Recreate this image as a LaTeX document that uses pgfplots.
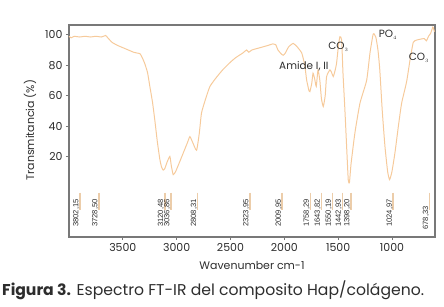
\documentclass[border=0pt]{standalone}
\usepackage{fontspec}
\setmainfont{Poppins}
\newfontfamily\lab{Liberation Sans}
\usepackage{pgfplots}
\pgfplotsset{compat=1.18}
\definecolor{spec}{RGB}{246,202,155}
\definecolor{marker}{RGB}{236,205,170}
\definecolor{frame}{RGB}{120,120,120}
\definecolor{txt}{RGB}{45,45,45}
\pgfplotstableread{
w T
4000 99
3980 98
3950 99
3900 98.5
3850 99
3800 98.5
3750 99
3700 98.5
3660 99.5
3640 98
3600 95
3550 93
3500 91.5
3450 90
3400 88.5
3370 88
3340 87.5
3320 85
3296 81
3270 75
3249 66
3225 56
3203 44
3180 30
3156 18
3140 13
3125 11
3110 12
3090 16
3063 20
3050 14
3032 8
3010 10
2980 15
2940 22
2900 29
2877 33
2850 29
2815 24
2790 35
2769 48.6
2730 58
2691 66
2630 72
2571 77
2500 82
2450 85
2385 88
2350 90
2330 88.5
2300 90
2250 91
2199 92
2150 93
2106 94
2080 93.5
2059 90
2030 87.5
2010 86.5
1990 88
1960 92
1917 94.3
1880 92
1838 88
1810 80
1792 70
1770 63
1762 62.6
1745 68
1733 74.7
1718 71
1703 66
1687 76.9
1670 70
1655 58
1638 52.8
1620 60
1607 72.5
1576 76.9
1560 75
1545 72.5
1530 76
1515 81
1495 94
1483 98.7
1467 96.5
1455 75
1437 50.6
1420 25
1406 4.7
1395 2.6
1380 15
1344 35.5
1297 55
1235 70
1204 88
1174 100.5
1150 98.5
1130 90
1113 77
1090 50
1065 26.6
1040 10
1022 4.7
1000 10
972 22.4
940 40
910 55
864 69
833 83
802 95
770 96.5
740 97
700 97.5
680 96
660 99
640 101
620 105
605 102
}\spectrum
\begin{document}
\begin{tikzpicture}[x=1bp,y=1bp]
\path[use as bounding box] (-69,-69) rectangle (375,237);
\begin{axis}[at={(0,0)}, anchor=south west, scale only axis,
  width=366bp, height=212bp,
  x dir=reverse, xmin=600, xmax=4000, ymin=-33, ymax=106.4,
  xtick={1000,1500,...,3500}, ytick={20,40,...,100},
  tick align=outside, xtick pos=bottom, ytick pos=left,
  major tick length=3bp,
  axis line style={frame, line width=1.3pt},
  tick style={frame, line width=0.8pt},
  ticklabel style={font=\fontsize{11}{11}\selectfont, text=txt},
  /pgf/number format/assume math mode=true,
  /pgf/number format/1000 sep={},
  clip=false]
\addplot[spec, line width=1pt, smooth, tension=0.3] table[x=w,y=T] {\spectrum};
% marker lines
\addplot[marker, line width=1.6pt] coordinates {(3900,-3.8) (3900,-15)};
\addplot[marker, line width=1.6pt] coordinates {(3723,-3.8) (3723,-15)};
\addplot[marker, line width=1.6pt] coordinates {(3110,-3.8) (3110,-15)};
\addplot[marker, line width=1.6pt] coordinates {(3054,-3.8) (3054,-15)};
\addplot[marker, line width=1.6pt] coordinates {(2806,-3.8) (2806,-15)};
\addplot[marker, line width=1.6pt] coordinates {(2320,-3.8) (2320,-15)};
\addplot[marker, line width=1.6pt] coordinates {(2019,-3.8) (2019,-15)};
\addplot[marker, line width=1.6pt] coordinates {(1757,-3.8) (1757,-15)};
\addplot[marker, line width=1.6pt] coordinates {(1655,-3.8) (1655,-15)};
\addplot[marker, line width=1.6pt] coordinates {(1553,-3.8) (1553,-15)};
\addplot[marker, line width=1.6pt] coordinates {(1460,-3.8) (1460,-15)};
\addplot[marker, line width=1.6pt] coordinates {(1381,-3.8) (1381,-15)};
\addplot[marker, line width=1.6pt] coordinates {(988,-3.8) (988,-15)};
\addplot[marker, line width=1.6pt] coordinates {(651,-3.8) (651,-15)};
% labels
\begin{scope}[every node/.style={rotate=90, anchor=south east, inner sep=0.3pt, xshift=-1.2bp, font=\lab\fontsize{7.6}{7.6}\selectfont, text=txt}]
\node at (axis cs:3900,-7.1) {3802,15};
\node at (axis cs:3723,-7.1) {3728,50};
\node at (axis cs:3112,-7.1) {3120,48};
\node at (axis cs:3054,-7.1) {3036,86};
\node at (axis cs:2806,-7.1) {2808,31};
\node at (axis cs:2320,-7.1) {2323,95};
\node at (axis cs:2019,-7.1) {2009,95};
\node at (axis cs:1757,-7.1) {1758,29};
\node at (axis cs:1655,-7.1) {1643,82};
\node at (axis cs:1553,-7.1) {1550,19};
\node at (axis cs:1460,-7.1) {1442,93};
\node at (axis cs:1381,-7.1) {1398,20};
\node at (axis cs:988,-7.1) {1024,97};
\node at (axis cs:651,-11.7) {678,33};
\end{scope}
% annotations
\begin{scope}[every node/.style={font=\fontsize{10.5}{10.5}\selectfont, text=txt, inner sep=0}]
\node at (axis cs:1818,79) {Amide I, II};
\node at (axis cs:1497,92) {CO$_{\scriptscriptstyle 3}$};
\node at (axis cs:1037,99.8) {PO$_{\scriptscriptstyle 4}$};
\node at (axis cs:749,85) {CO$_{\scriptscriptstyle 3}$};
\end{scope}
\end{axis}
\node[rotate=90, font=\fontsize{11}{11}\selectfont, text=txt] at (-39,107) {Transmitancia (\%)};
\node[font=\fontsize{11}{11}\selectfont, text=txt] at (183,-28) {Wavenumber cm-1};
\node[anchor=west, inner sep=0, font=\fontsize{15.7}{15.7}\selectfont, text=txt] at (-67,-53) {\textbf{Figura 3.} Espectro FT-IR del composito Hap/colágeno.};
\end{tikzpicture}
\end{document}
